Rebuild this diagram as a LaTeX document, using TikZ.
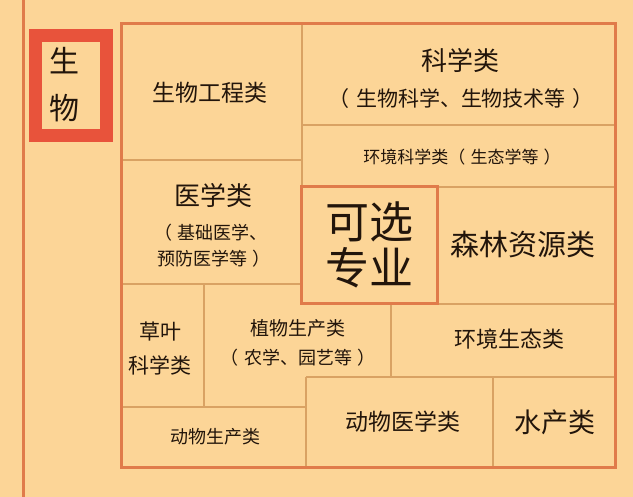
\documentclass[tikz,border=0pt]{standalone}
\usepackage{fontspec}
\setmainfont{Noto Sans CJK SC}
\usetikzlibrary{positioning}
\definecolor{paper}{HTML}{FCD597}
\definecolor{redbox}{HTML}{E8533B}
\definecolor{frameline}{HTML}{E07B4A}
\definecolor{thinline}{HTML}{D9A263}
\definecolor{ink}{HTML}{22150B}
\newcommand{\gap}{\hspace{0.3em}}
\tikzset{
  size/.style = {font = \fontsize{#1}{#1}\selectfont},
  frame/.style = {draw = frameline, line width = 3pt},
  cell/.style = {draw = thinline, line width = 1.2pt},
  label/.style = {text = ink, inner sep = 0}
}
\begin{document}
\begin{tikzpicture}[
      x = 1pt, y = -1pt
      ]
      \fill[paper] (0,0) rectangle (633,497);
      \useasboundingbox (0,0) rectangle (633,497);
      % left rule and title box
      \draw[frame] (23,0) -- (23,497);
      \draw[redbox, line width = 13pt] (35.5,35.5) rectangle (106.5,135.5);
      \node[label, size = 30] (sheng) at (64,61) {生};
      \node[label, size = 30] (wu) at (64,108) {物};
      % inner cells
      \draw[cell] (302,24) -- (302,187);
      \draw[cell] (121,160) -- (302,160);
      \draw[cell] (302,125) -- (615,125);
      \draw[cell] (302,187) -- (615,187);
      \draw[cell] (121,284) -- (301,284);
      \draw[cell] (437,304) -- (615,304);
      \draw[cell] (204,284) -- (204,407);
      \draw[cell] (391,304) -- (391,377);
      \draw[cell] (306,377) -- (615,377);
      \draw[cell] (121,407) -- (306,407);
      \draw[cell] (306,377) -- (306,468);
      \draw[cell] (493,377) -- (493,468);
      % outer frame and centre box
      \draw[frame] (121,24) rectangle (615,468);
      \draw[frame] (301,187) rectangle (437,304);
      % labels
      \node[label, size = 23] (bioeng) at (210,93) {生物工程类};
      \node[label, size = 26] (sci) at (460,61) {科学类};
      \node[label, size = 21] (sci sub) at (461,99) {（\gap 生物科学、生物技术等\gap ）};
      \node[label, size = 17] (envsci) at (462,157) {环境科学类（\gap 生态学等\gap ）};
      \node[label, size = 44] (xuan) at (369,222) {可选};
      \node[label, size = 44] (major) at (369,268) {专业};
      \node[label, size = 29] (forest) at (523,244) {森林资源类};
      \node[label, size = 26] (med) at (213,196) {医学类};
      \node[label, size = 18] (med sub) at (211,233) {（\gap 基础医学、};
      \node[label, size = 18] (med sub2) at (214,259) {预防医学等\gap ）};
      \node[label, size = 21] (grass) at (160,332) {草叶};
      \node[label, size = 21] (grass sci) at (160,365) {科学类};
      \node[label, size = 19] (plant) at (298,328) {植物生产类};
      \node[label, size = 18] (plant sub) at (298,358) {（\gap 农学、园艺等\gap ）};
      \node[label, size = 22] (ecol) at (509,339) {环境生态类};
      \node[label, size = 18] (animal) at (215,437) {动物生产类};
      \node[label, size = 23] (vet) at (403,422) {动物医学类};
      \node[label, size = 27] (aqua) at (555,422) {水产类};
    \end{tikzpicture}
\end{document}
